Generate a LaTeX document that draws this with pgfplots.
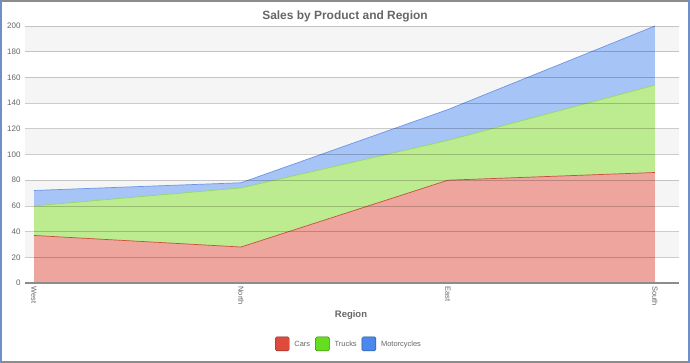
\documentclass[border=0pt]{standalone}
\usepackage{fontspec}
\setmainfont{Liberation Sans}
\usepackage{pgfplots}
\usepackage{pgfplotstable}
\pgfplotsset{compat=1.18}
\definecolor{carsc}{HTML}{E04A3C}
\definecolor{trucksc}{HTML}{66DD1E}
\definecolor{motoc}{HTML}{4A88EE}
\definecolor{carsfill}{HTML}{EDA59E}
\definecolor{trucksfill}{HTML}{BDEB8F}
\definecolor{motofill}{HTML}{A6C4F6}
\definecolor{carsline}{HTML}{C9503F}
\definecolor{trucksline}{HTML}{95D868}
\definecolor{motoline}{HTML}{6E94E4}
\definecolor{band}{HTML}{F5F5F5}
\definecolor{txt}{HTML}{666666}
\definecolor{framec}{HTML}{8C8C8C}
\definecolor{frameblue}{HTML}{6F8FC8}
\pgfplotstableread{
x cars trucks moto
0 37 23 12
1 28 46 4
2 80 31 24
3 86 68 46
}\sales
\begin{document}
\begin{tikzpicture}
\path[use as bounding box] (0bp,0bp) rectangle (690bp,363bp);
\fill[white] (0bp,0bp) rectangle (690bp,363bp);
\draw[framec, line width=2bp] (0bp,362bp) -- (690bp,362bp);
\draw[framec, line width=2bp] (0bp,1bp) -- (690bp,1bp);
\draw[frameblue, line width=2bp] (1bp,0bp) -- (1bp,363bp);
\draw[frameblue, line width=2bp] (689bp,0bp) -- (689bp,363bp);
\node[font=\bfseries\fontsize{12}{14}\selectfont, text=txt] at (345bp,347bp) {Sales by Product and Region};
\node[font=\bfseries\fontsize{9.5}{11}\selectfont, text=txt] at (351bp,48bp) {Region};
\begin{axis}[
  at={(25bp,80bp)}, anchor=south west,
  scale only axis, width=654bp, height=257bp,
  xmin=-0.0435, xmax=3.116, ymin=0, ymax=200,
  xtick={0,1,2,3}, xticklabels={West,North,East,South},
  ytick={0,20,...,200},
  /pgf/number format/assume math mode=true,
  major tick length=0pt,
  axis on top,
  ymajorgrids, grid style={black, opacity=0.2, line width=0.6bp},
  axis x line*=bottom, axis y line*=left,
  x axis line style={draw=framec, line width=1.5bp, -},
  y axis line style={draw=none},
  x tick label style={rotate=-90, anchor=west, font=\fontsize{7.5}{8}\selectfont, text=txt},
  y tick label style={font=\fontsize{8}{9}\selectfont, text=txt, xshift=-1bp},
  legend style={at={(axis description cs:0.4954,-0.237)}, anchor=center, draw=none, fill=none,
    font=\fontsize{7.5}{9}\selectfont, text=txt, column sep=3bp},
  legend columns=3,
  legend image code/.code={\draw[#1, rounded corners=1.5bp] (0bp,-6bp) rectangle (14bp,8bp);},
]
\addlegendimage{fill=carsc, draw=carsc!55!black}
\addlegendimage{fill=trucksc, draw=trucksc!55!black}
\addlegendimage{fill=motoc, draw=motoc!55!black}
\fill[band] (axis cs:-0.0435,180) rectangle (axis cs:3.116,200);
\fill[band] (axis cs:-0.0435,140) rectangle (axis cs:3.116,160);
\fill[band] (axis cs:-0.0435,100) rectangle (axis cs:3.116,120);
\fill[band] (axis cs:-0.0435,60) rectangle (axis cs:3.116,80);
\fill[band] (axis cs:-0.0435,20) rectangle (axis cs:3.116,40);
\addplot[fill=motofill, draw=none, forget plot] table[x=x, y expr=\thisrow{cars}+\thisrow{trucks}+\thisrow{moto}] {\sales} \closedcycle;
\addplot[fill=trucksfill, draw=none, forget plot] table[x=x, y expr=\thisrow{cars}+\thisrow{trucks}] {\sales} \closedcycle;
\addplot[fill=carsfill, draw=none, forget plot] table[x=x, y=cars] {\sales} \closedcycle;
\addplot[draw=carsline, line width=0.7bp, forget plot] table[x=x, y=cars] {\sales};
\addplot[draw=trucksline, line width=0.7bp, forget plot] table[x=x, y expr=\thisrow{cars}+\thisrow{trucks}] {\sales};
\addplot[draw=motoline, line width=0.7bp, forget plot] table[x=x, y expr=\thisrow{cars}+\thisrow{trucks}+\thisrow{moto}] {\sales};
\legend{Cars,Trucks,Motorcycles}
\end{axis}
\end{tikzpicture}
\end{document}
